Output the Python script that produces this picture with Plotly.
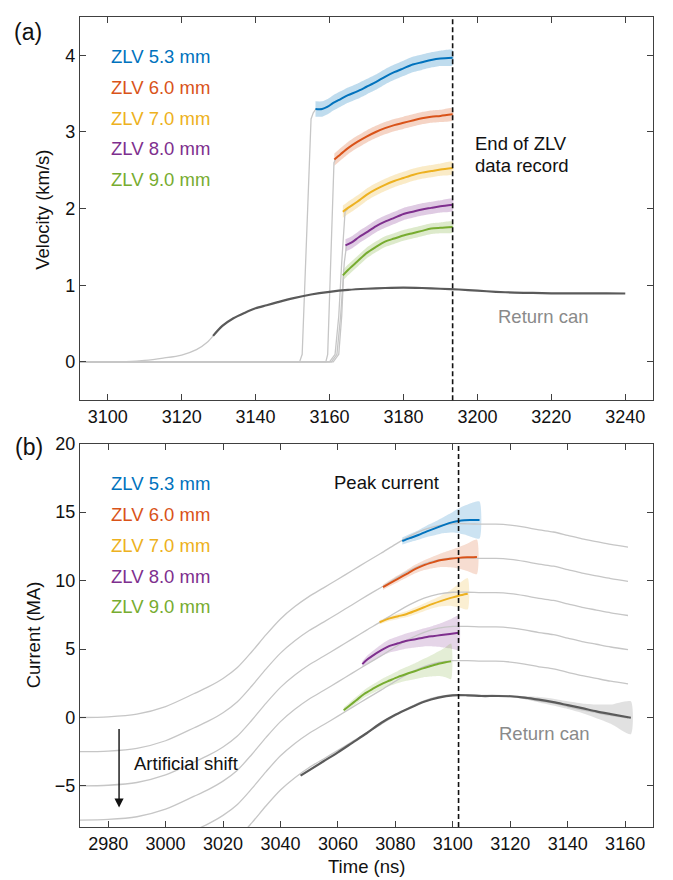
import plotly.graph_objects as go

# ---------------- Panel (a): velocity ----------------
ZLV_LABELS = ["ZLV 5.3 mm", "ZLV 6.0 mm", "ZLV 7.0 mm", "ZLV 8.0 mm", "ZLV 9.0 mm"]
COLORS = ["#0072BD", "#D95319", "#EDB120", "#7E2F8E", "#77AC30"]
BAND_RGBA = ["rgba(0,114,189,{a})", "rgba(217,83,25,{a})", "rgba(237,177,32,{a})",
             "rgba(126,47,142,{a})", "rgba(119,172,48,{a})"]

# ZLV velocity segments (ns, km/s)
va_t_53 = [3156.2, 3158, 3159.5, 3161, 3163, 3165, 3167.5, 3170, 3172.5, 3175, 3177.5, 3180, 3182.5, 3185, 3187.5, 3190, 3193.3]
va_v_53 = [3.30, 3.30, 3.33, 3.38, 3.43, 3.48, 3.53, 3.59, 3.65, 3.72, 3.78, 3.83, 3.88, 3.91, 3.94, 3.96, 3.97]
va_t_60 = [3161.3, 3163, 3165, 3167.5, 3170, 3172.5, 3175, 3177.5, 3180, 3182.5, 3185, 3187.5, 3190, 3193.3]
va_v_60 = [2.64, 2.71, 2.79, 2.87, 2.94, 3.00, 3.05, 3.09, 3.12, 3.15, 3.18, 3.20, 3.21, 3.23]
va_t_70 = [3163.6, 3165, 3167.5, 3170, 3172.5, 3175, 3177.5, 3180, 3182.5, 3185, 3187.5, 3190, 3193.3]
va_v_70 = [1.96, 2.01, 2.09, 2.18, 2.25, 2.31, 2.36, 2.40, 2.44, 2.47, 2.49, 2.51, 2.53]
va_t_80 = [3164.3, 3166, 3168, 3170, 3172.5, 3175, 3177.5, 3180, 3182.5, 3185, 3187.5, 3190, 3193.3]
va_v_80 = [1.52, 1.56, 1.63, 1.69, 1.77, 1.83, 1.88, 1.93, 1.96, 1.99, 2.01, 2.03, 2.05]
va_t_90 = [3163.6, 3165, 3167.5, 3170, 3172.5, 3175, 3177.5, 3180, 3182.5, 3185, 3187.5, 3190, 3193.3]
va_v_90 = [1.13, 1.20, 1.31, 1.42, 1.50, 1.57, 1.61, 1.65, 1.68, 1.71, 1.74, 1.75, 1.76]
va_band = [0.10, 0.08, 0.08, 0.08, 0.07]

# gray pre-record traces (velocity jump)
ga_t_53 = [3092.5, 3151.9, 3152.6, 3155.0, 3155.6, 3156.3]
ga_v_53 = [0.0, 0.0, 0.10, 3.17, 3.25, 3.30]
ga_t_60 = [3092.5, 3159.0, 3159.5, 3161.2, 3161.6]
ga_v_60 = [0.0, 0.0, 0.10, 2.60, 2.64]
ga_t_70 = [3092.5, 3160.0, 3161.5, 3162.5, 3163.3, 3164.2, 3165.0]
ga_v_70 = [0.0, 0.0, 0.10, 0.60, 1.30, 1.96, 2.00]
ga_t_80 = [3092.5, 3160.5, 3162.0, 3163.0, 3164.0, 3164.6]
ga_v_80 = [0.0, 0.0, 0.10, 0.60, 1.30, 1.52]
ga_t_90 = [3092.5, 3161.0, 3162.5, 3163.3, 3163.8]
ga_v_90 = [0.0, 0.0, 0.10, 0.60, 1.13]

# return can velocity
rc_a_gray_t = [3092.5, 3100, 3105, 3110, 3115, 3120, 3124, 3127, 3128.5]
rc_a_gray_v = [0.0, 0.0, 0.005, 0.02, 0.05, 0.09, 0.16, 0.26, 0.34]
rc_a_t = [3128.5, 3131, 3134, 3137, 3140, 3143, 3146, 3150, 3155, 3160, 3165, 3170, 3175, 3180, 3185,
          3190, 3195, 3200, 3205, 3210, 3215, 3220, 3225, 3230, 3235, 3240]
rc_a_v = [0.34, 0.47, 0.57, 0.64, 0.70, 0.74, 0.78, 0.83, 0.88, 0.915, 0.94, 0.955, 0.965, 0.97, 0.965,
          0.955, 0.945, 0.93, 0.915, 0.905, 0.90, 0.895, 0.895, 0.895, 0.895, 0.893]

# ---------------- Panel (b): current ----------------
base_t = [2970, 2980, 2990, 3000, 3010, 3015, 3020, 3025, 3030, 3035, 3040, 3045, 3050, 3055, 3060, 3065,
          3070, 3075, 3080, 3085, 3090, 3095, 3100, 3105, 3110, 3115, 3120, 3125, 3130, 3135, 3140, 3145,
          3150, 3155, 3161]
base_I = [0.0, 0.05, 0.25, 0.8, 1.75, 2.25, 2.85, 3.65, 4.8, 6.05, 7.2, 8.1, 8.85, 9.47, 10.1, 10.74,
          11.38, 12.0, 12.65, 13.25, 13.72, 14.02, 14.15, 14.15, 14.12, 14.12, 14.05, 13.9, 13.7, 13.55, 13.3, 13.05,
          12.85, 12.65, 12.45]
shift_offsets = [0.0, -2.5, -5.0, -7.5, -10.0, -12.5]

ib_t_53 = [3082.4, 3085, 3088, 3091, 3094, 3097, 3100, 3102, 3104, 3106, 3109.3]
ib_I_53 = [12.89, 13.10, 13.33, 13.60, 13.83, 14.07, 14.27, 14.36, 14.41, 14.43, 14.43]
ib_e_53 = [0.25, 0.30, 0.35, 0.42, 0.50, 0.60, 0.75, 0.90, 1.05, 1.20, 1.35]
ib_t_60 = [3075.7, 3078, 3081, 3084, 3087, 3090, 3093, 3096, 3099, 3102, 3105, 3108.4]
ib_I_60 = [9.52, 9.80, 10.15, 10.50, 10.85, 11.13, 11.33, 11.50, 11.60, 11.66, 11.70, 11.73]
ib_e_60 = [0.20, 0.22, 0.25, 0.28, 0.32, 0.36, 0.42, 0.50, 0.62, 0.78, 1.00, 1.26]
ib_t_70 = [3074.5, 3078, 3081, 3084, 3087, 3090, 3093, 3096, 3099, 3102, 3105.2]
ib_I_70 = [6.96, 7.24, 7.40, 7.56, 7.80, 8.05, 8.30, 8.52, 8.72, 8.90, 9.04]
ib_e_70 = [0.15, 0.18, 0.20, 0.22, 0.25, 0.28, 0.32, 0.40, 0.55, 0.85, 1.14]
ib_t_80 = [3068.5, 3070, 3072, 3075, 3078, 3081, 3084, 3087, 3090, 3093, 3096, 3099, 3102]
ib_I_80 = [3.90, 4.20, 4.50, 4.90, 5.23, 5.42, 5.60, 5.72, 5.85, 5.94, 6.02, 6.10, 6.19]
ib_e_80 = [0.22, 0.28, 0.34, 0.42, 0.48, 0.52, 0.56, 0.60, 0.66, 0.75, 0.88, 1.05, 1.26]
ib_t_90 = [3062, 3064, 3066.4, 3069, 3072.2, 3075, 3078, 3081, 3083.8, 3087, 3089.6, 3092, 3095.4, 3097.5, 3099.4]
ib_I_90 = [0.53, 0.86, 1.26, 1.70, 2.10, 2.42, 2.70, 2.97, 3.18, 3.40, 3.59, 3.74, 3.95, 4.04, 4.10]
ib_e_90 = [0.20, 0.22, 0.25, 0.28, 0.32, 0.36, 0.40, 0.45, 0.50, 0.58, 0.66, 0.75, 0.92, 1.10, 1.30]

rc_b_t = [3047, 3055, 3060, 3065, 3070, 3075, 3080, 3085, 3090, 3095, 3100, 3105, 3110, 3115, 3120,
          3125, 3130, 3135, 3140, 3145, 3150, 3155, 3162]
rc_b_I = [-4.25, -3.20, -2.55, -1.85, -1.15, -0.40, 0.20, 0.70, 1.15, 1.45, 1.62, 1.62, 1.57, 1.57, 1.55,
          1.45, 1.30, 1.12, 0.90, 0.68, 0.45, 0.25, -0.02]
rc_b_e = [0.05, 0.05, 0.05, 0.05, 0.05, 0.05, 0.05, 0.05, 0.05, 0.05, 0.05, 0.05, 0.05, 0.06, 0.08,
          0.12, 0.20, 0.25, 0.28, 0.35, 0.50, 0.70, 1.20]

END_ZLV_T = 3193.3
PEAK_T = 3102.0

LIGHT = "#c6c6c6"
DARK = "#5a5a5a"
FONT = "Liberation Sans, Arial, sans-serif"

fig = go.Figure()


def band(t, v, e, fill, xa, ya):
    up = [a + b for a, b in zip(v, e)]
    lo = [a - b for a, b in zip(v, e)]
    fig.add_trace(go.Scatter(x=list(t) + list(t)[::-1], y=up + lo[::-1], fill="toself",
                             fillcolor=fill, line=dict(width=0, shape="spline", smoothing=0.6), mode="lines",
                             hoverinfo="skip", showlegend=False, xaxis=xa, yaxis=ya))


def line(t, v, color, width, xa, ya, smooth=True):
    ln = dict(color=color, width=width)
    if smooth:
        ln.update(shape="spline", smoothing=0.8)
    fig.add_trace(go.Scatter(x=t, y=v, mode="lines", line=ln,
                             showlegend=False, xaxis=xa, yaxis=ya))


# ---- panel a ----
va_t = [va_t_53, va_t_60, va_t_70, va_t_80, va_t_90]
va_v = [va_v_53, va_v_60, va_v_70, va_v_80, va_v_90]
ga_t = [ga_t_53, ga_t_60, ga_t_70, ga_t_80, ga_t_90]
ga_v = [ga_v_53, ga_v_60, ga_v_70, ga_v_80, ga_v_90]

for i in range(5):
    band(va_t[i], va_v[i], [va_band[i]] * len(va_t[i]), BAND_RGBA[i].format(a=0.25), "x", "y")
line(rc_a_gray_t, rc_a_gray_v, LIGHT, 1.3, "x", "y")
for i in range(5):
    line(ga_t[i], ga_v[i], LIGHT, 1.3, "x", "y", smooth=False)
line(rc_a_t, rc_a_v, DARK, 2.2, "x", "y")
for i in range(5):
    line(va_t[i], va_v[i], COLORS[i], 2.0, "x", "y")

# ---- panel b ----
ib_t = [ib_t_53, ib_t_60, ib_t_70, ib_t_80, ib_t_90]
ib_I = [ib_I_53, ib_I_60, ib_I_70, ib_I_80, ib_I_90]
ib_e = [ib_e_53, ib_e_60, ib_e_70, ib_e_80, ib_e_90]

for i in range(5):
    band(ib_t[i], ib_I[i], ib_e[i], BAND_RGBA[i].format(a=0.2), "x2", "y2")
band(rc_b_t, rc_b_I, rc_b_e, "rgba(90,90,90,0.18)", "x2", "y2")
for off in shift_offsets:
    line(base_t, [v + off for v in base_I], LIGHT, 1.3, "x2", "y2")
line(rc_b_t, rc_b_I, DARK, 2.2, "x2", "y2")
for i in range(5):
    line(ib_t[i], ib_I[i], COLORS[i], 2.0, "x2", "y2")

# ---- annotations ----
ann = []
lab_a_v = [3.98, 3.58, 3.18, 2.78, 2.38]
lab_b_I = [17.07, 14.83, 12.57, 10.33, 8.09]
for i in range(5):
    ann.append(dict(x=3100.3, y=lab_a_v[i], xref="x", yref="y", text=ZLV_LABELS[i], showarrow=False,
                    xanchor="left", yanchor="middle", font=dict(size=18.5, color=COLORS[i], family=FONT)))
    ann.append(dict(x=2980.3, y=lab_b_I[i], xref="x2", yref="y2", text=ZLV_LABELS[i], showarrow=False,
                    xanchor="left", yanchor="middle", font=dict(size=18.5, color=COLORS[i], family=FONT)))

ann += [
    dict(x=3198.9, y=2.855, xref="x", yref="y", text="End of ZLV", showarrow=False,
         xanchor="left", yanchor="middle", font=dict(size=18.5, color="#111", family=FONT)),
    dict(x=3198.9, y=2.56, xref="x", yref="y", text="data record", showarrow=False,
         xanchor="left", yanchor="middle", font=dict(size=18.5, color="#111", family=FONT)),
    dict(x=3204.9, y=0.59, xref="x", yref="y", text="Return can", showarrow=False,
         xanchor="left", yanchor="middle", font=dict(size=18.5, color="#8a8a8a", family=FONT)),
    dict(x=3057.8, y=17.15, xref="x2", yref="y2", text="Peak current", showarrow=False,
         xanchor="left", yanchor="middle", font=dict(size=18.5, color="#111", family=FONT)),
    dict(x=3115.4, y=-1.16, xref="x2", yref="y2", text="Return can", showarrow=False,
         xanchor="left", yanchor="middle", font=dict(size=18.5, color="#8a8a8a", family=FONT)),
    dict(x=2988.2, y=-3.35, xref="x2", yref="y2", text="Artificial shift", showarrow=False,
         xanchor="left", yanchor="middle", font=dict(size=18.5, color="#111", family=FONT)),
    dict(x=2983.8, y=-6.58, ax=2983.8, ay=-0.74, xref="x2", yref="y2", axref="x2", ayref="y2",
         text="", showarrow=True, arrowhead=2, arrowsize=1.3, arrowwidth=1.4, arrowcolor="#111"),
    dict(x=-0.0908, y=0.9817, xref="paper", yref="paper", text="(a)", showarrow=False,
         xanchor="center", yanchor="middle", font=dict(size=23, color="#111", family=FONT)),
    dict(x=-0.089, y=0.4695, xref="paper", yref="paper", text="(b)", showarrow=False,
         xanchor="center", yanchor="middle", font=dict(size=23, color="#111", family=FONT)),
    dict(x=-0.0646, y=0.762, xref="paper", yref="paper", text="Velocity (km/s)", showarrow=False,
         textangle=-90, xanchor="center", yanchor="middle", font=dict(size=18.5, color="#111", family=FONT)),
    dict(x=-0.082, y=0.2366, xref="paper", yref="paper", text="Current (MA)", showarrow=False,
         textangle=-90, xanchor="center", yanchor="middle", font=dict(size=18.5, color="#111", family=FONT)),
    dict(x=0.5003, y=-0.0484, xref="paper", yref="paper", text="Time (ns)", showarrow=False,
         xanchor="center", yanchor="middle", font=dict(size=18.5, color="#111", family=FONT)),
]

shapes = [
    dict(type="line", xref="x", yref="y domain", x0=END_ZLV_T, x1=END_ZLV_T, y0=0, y1=1,
         line=dict(color="#111", width=1.6, dash="5px,3px")),
    dict(type="line", xref="x2", yref="y2 domain", x0=PEAK_T, x1=PEAK_T, y0=0, y1=1,
         line=dict(color="#111", width=1.6, dash="5px,3px")),
]

ax_common = dict(showline=True, linecolor="#404040", linewidth=1.3, mirror="ticks", ticks="inside",
                 ticklen=6, tickwidth=1.2, tickcolor="#404040", showgrid=False, zeroline=False,
                 tickfont=dict(size=18, color="#111", family=FONT))

fig.update_layout(
    width=673, height=880,
    margin=dict(l=80, r=20, t=7, b=53),
    paper_bgcolor="white", plot_bgcolor="white",
    showlegend=False,
    xaxis=dict(domain=[0, 1], range=[3092.5, 3247.5], tickvals=[3100, 3120, 3140, 3160, 3180, 3200, 3220, 3240],
               anchor="y", **ax_common),
    yaxis=dict(domain=[0.5268, 1], range=[-0.5, 4.5], tickvals=[0, 1, 2, 3, 4], anchor="x", **ax_common),
    xaxis2=dict(domain=[0, 1], range=[2970.2, 3169.7],
                tickvals=[2980, 3000, 3020, 3040, 3060, 3080, 3100, 3120, 3140, 3160], anchor="y2", **ax_common),
    yaxis2=dict(domain=[0, 0.4732], range=[-8, 20], tickvals=[-5, 0, 5, 10, 15, 20], anchor="x2", **ax_common),
    annotations=ann,
    shapes=shapes,
)

fig.write_html("out.html")
